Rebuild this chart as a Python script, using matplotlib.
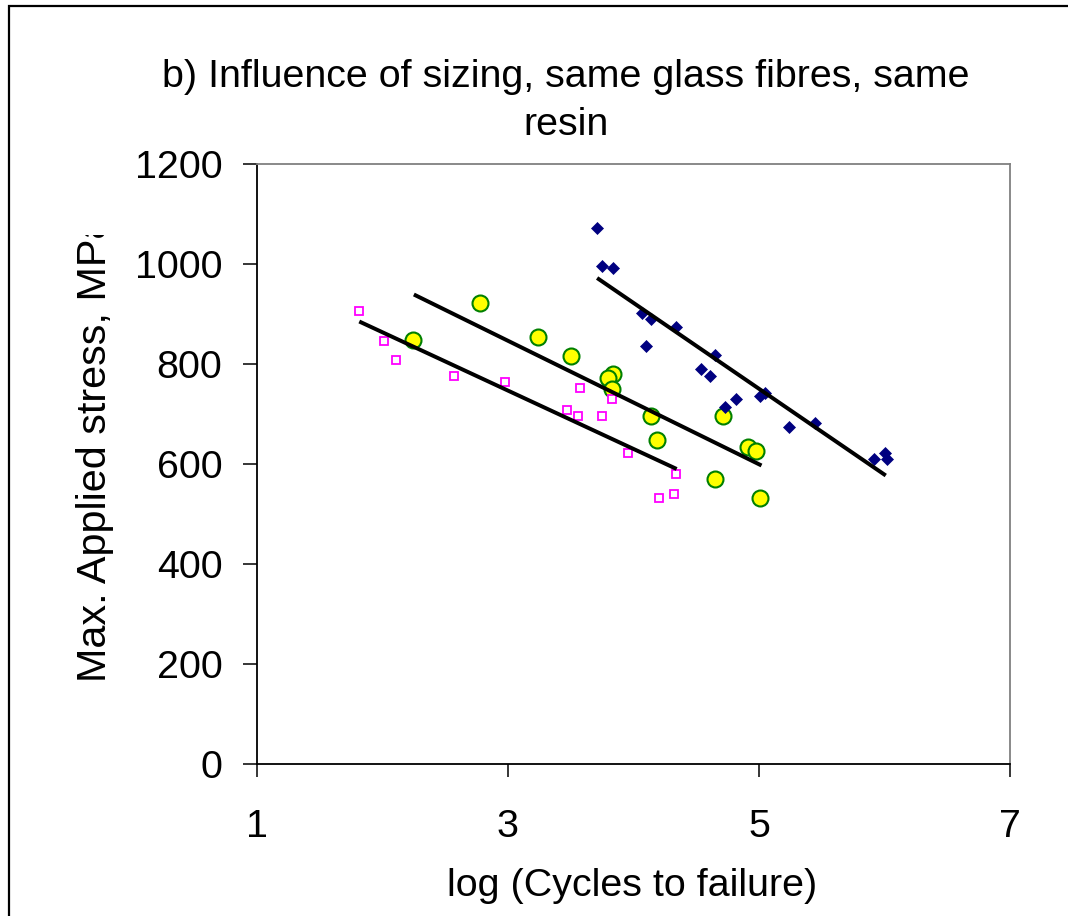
import matplotlib
matplotlib.use("Agg")
import matplotlib.pyplot as plt
from matplotlib.patches import Rectangle
from matplotlib.transforms import Bbox, TransformedBbox

plt.rcParams['font.family'] = ['Liberation Sans', 'DejaVu Sans']

# ---- data (log cycles, max stress MPa) ----
navy_x = [3.71, 3.75, 3.84, 4.07, 4.14, 4.34, 4.10, 4.65, 4.54, 4.61, 4.82, 4.73,
          5.01, 5.05, 5.24, 5.45, 5.92, 6.00, 6.02]
navy_y = [1072, 997, 993, 903, 891, 874, 836, 818, 791, 776, 731, 715,
          737, 743, 675, 683, 611, 623, 611]

yellow_x = [2.24, 2.78, 3.24, 3.50, 3.84, 3.80, 3.83, 4.14, 4.19, 4.71, 4.91, 4.98, 4.65, 5.01]
yellow_y = [848, 922, 854, 817, 780, 773, 751, 697, 649, 697, 634, 627, 570, 533]

pink_x = [1.81, 2.01, 2.105, 2.57, 2.98, 3.57, 3.47, 3.56, 3.75, 3.83, 3.96, 4.34, 4.20, 4.32]
pink_y = [907, 847, 809, 776, 765, 753, 709, 697, 697, 730, 622, 581, 532, 540]

# trend lines (end points)
pink_fit_x = [1.815, 4.344]
pink_fit_y = [885, 590]
yellow_fit_x = [2.25, 5.02]
yellow_fit_y = [939, 597]
navy_fit_x = [3.71, 6.01]
navy_fit_y = [972, 577]

xticks = [1, 3, 5, 7]
yticks = [0, 200, 400, 600, 800, 1000, 1200]

title1 = "b) Influence of sizing, same glass fibres, same"
title2 = "resin"
xlabel = "log (Cycles to failure)"
ylabel = "Max. Applied stress, MPa"

W, H = 1068, 916
fig = plt.figure(figsize=(W / 100, H / 100), dpi=100)
fig.patch.set_facecolor('white')

# outer border (clipped at right and bottom like the reference)
fig.patches.append(Rectangle((9 / W, -0.05), 1.2, (H - 6) / H + 0.05,
                             transform=fig.transFigure, fill=False,
                             edgecolor='black', linewidth=1.6))

ax = fig.add_axes([257 / W, (H - 764) / H, (1010 - 257) / W, (764 - 164) / H])

ax.plot(yellow_x, yellow_y, linestyle='none', marker='o', markersize=11.5,
        markerfacecolor='#FFFF00', markeredgecolor='#008000', markeredgewidth=1.5, zorder=3)
ax.plot(pink_x, pink_y, linestyle='none', marker='s', markersize=6.2,
        markerfacecolor='white', markeredgecolor='#FF00FF', markeredgewidth=1.3, zorder=4)
ax.plot(navy_x, navy_y, linestyle='none', marker='D', markersize=6.6,
        markerfacecolor='#000080', markeredgecolor='#000080', markeredgewidth=0.5, zorder=4)

for fx, fy in [(pink_fit_x, pink_fit_y), (yellow_fit_x, yellow_fit_y), (navy_fit_x, navy_fit_y)]:
    ax.plot(fx, fy, color='black', linewidth=2.85, zorder=5, solid_capstyle='butt')

ax.set_xlim(1, 7)
ax.set_ylim(0, 1200)
ax.set_xticks(xticks)
ax.set_yticks(yticks)
ax.set_xticklabels([str(v) for v in xticks])
ax.set_yticklabels([str(v) for v in yticks])

for side in ['left', 'bottom']:
    ax.spines[side].set_color('black')
    ax.spines[side].set_linewidth(1.3)
for side in ['top', 'right']:
    ax.spines[side].set_color('#808080')
    ax.spines[side].set_linewidth(1.3)

ax.tick_params(axis='y', direction='out', length=10, width=1.1, pad=15, labelsize=28.4, colors='black')
ax.tick_params(axis='x', direction='out', length=9.4, width=1.1, pad=23, labelsize=28.4, colors='black')

fig.text(566 / W, (H - 87) / H, title1, ha='center', va='baseline', fontsize=28.4)
fig.text(566 / W, (H - 135) / H, title2, ha='center', va='baseline', fontsize=28.4)
fig.text(632 / W, (H - 896) / H, xlabel, ha='center', va='baseline', fontsize=28.4)

clip = TransformedBbox(Bbox([[0, 0], [1, (H - 235) / H]]), fig.transFigure)
yl = fig.text(95 / W, (H - 682) / H, ylabel, rotation=90, ha='center', va='bottom',
              fontsize=29.8, clip_on=True)
yl.set_clip_box(clip)

fig.savefig('out.png', dpi=100, facecolor='white')
